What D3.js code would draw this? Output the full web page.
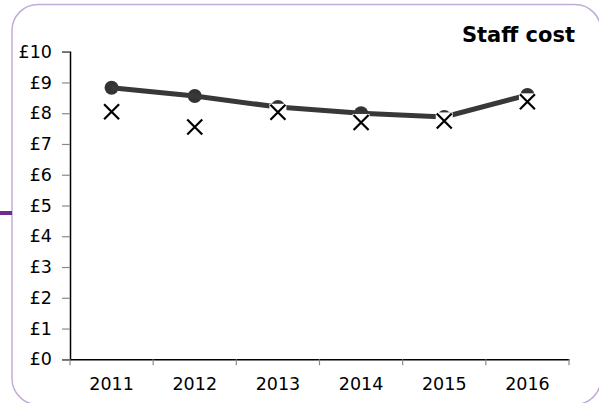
<!DOCTYPE html>
<html>
<head>
<meta charset="utf-8">
<script src="https://cdn.jsdelivr.net/npm/d3@7"></script>
<style>
  html, body { margin: 0; padding: 0; background: #fff; }
  svg { display: block; }
  text { font-family: "DejaVu Sans", Verdana, sans-serif; fill: #000; }
</style>
</head>
<body>
<svg id="chart" width="599" height="403"></svg>
<script>
// Staff cost per year: trend line (dots) and comparison values (crosses)
const years = ["2011", "2012", "2013", "2014", "2015", "2016"];
const staffCost = [8.83, 8.56, 8.2, 8.0, 7.88, 8.59];
const comparison = [8.05, 7.55, 8.03, 7.7, 7.75, 8.37];
const yTicks = [0, 1, 2, 3, 4, 5, 6, 7, 8, 9, 10];
const title = "Staff cost";

const svg = d3.select("#chart");

// Rounded frame and side accent
svg.append("rect")
  .attr("x", 12).attr("y", 4.5)
  .attr("width", 589).attr("height", 400)
  .attr("rx", 26).attr("ry", 26)
  .attr("fill", "none")
  .attr("stroke", "#c3acd9")
  .attr("stroke-width", 1.5);

svg.append("rect")
  .attr("x", 0).attr("y", 211)
  .attr("width", 12).attr("height", 4)
  .attr("fill", "#6b2d90");

const x = d3.scaleBand().domain(years).range([70, 569]).padding(0);
const y = d3.scaleLinear().domain([0, 10]).range([359.3, 51.7]);

// Y axis
const yAxis = svg.append("g")
  .attr("transform", "translate(70,0)")
  .call(d3.axisLeft(y).tickValues(yTicks).tickFormat(d => "£" + d)
    .tickSize(8).tickPadding(10));
yAxis.select(".domain").attr("stroke", "#000").attr("stroke-width", 1.5);
yAxis.selectAll(".tick line").attr("stroke", "#8a8a8a").attr("stroke-width", 1.2);
yAxis.selectAll(".tick text")
  .style("font-family", "'DejaVu Sans', Verdana, sans-serif")
  .style("font-size", "17.5px").attr("fill", "#000");

// X axis: labels centred in each band, ticks on band boundaries
const xAxis = svg.append("g")
  .attr("transform", `translate(0,${y(0)})`)
  .call(d3.axisBottom(x).tickSize(0).tickPadding(18));
xAxis.select(".domain").attr("stroke", "#000").attr("stroke-width", 1.5);
xAxis.selectAll(".tick text")
  .style("font-family", "'DejaVu Sans', Verdana, sans-serif")
  .style("font-size", "17.5px").attr("fill", "#000");

const boundaries = years.map(d => x(d)).concat([x.range()[1]]);
xAxis.selectAll(".bound")
  .data(boundaries)
  .join("line")
  .attr("class", "bound")
  .attr("x1", d => d).attr("x2", d => d)
  .attr("y1", 0).attr("y2", 6)
  .attr("stroke", "#8a8a8a").attr("stroke-width", 1.2);

const cx = d => x(d) + x.bandwidth() / 2;

// Trend dots and line
svg.append("g").selectAll("circle")
  .data(years)
  .join("circle")
  .attr("cx", d => cx(d))
  .attr("cy", (d, i) => y(staffCost[i]))
  .attr("r", 7)
  .attr("fill", "#333");

const line = d3.line()
  .x(d => cx(d))
  .y((d, i) => y(staffCost[i]));

svg.append("path")
  .datum(years)
  .attr("d", line)
  .attr("fill", "none")
  .attr("stroke", "#383838")
  .attr("stroke-width", 5);

// Comparison crosses on white boxes
const crosses = svg.append("g").selectAll("g")
  .data(years)
  .join("g")
  .attr("transform", (d, i) => `translate(${cx(d)},${y(comparison[i])})`);

crosses.append("rect")
  .attr("x", -8.5).attr("y", -8.5)
  .attr("width", 17).attr("height", 17)
  .attr("fill", "#fff");

crosses.append("path")
  .attr("d", "M-7.5,-7.5L7.5,7.5M7.5,-7.5L-7.5,7.5")
  .attr("stroke", "#000")
  .attr("stroke-width", 2.2)
  .attr("fill", "none");

// Title
svg.append("text")
  .attr("x", 575).attr("y", 41.5)
  .attr("text-anchor", "end")
  .style("font-family", "'DejaVu Sans', Verdana, sans-serif")
  .style("font-size", "21px")
  .style("font-weight", "bold")
  .text(title);
</script>
</body>
</html>
